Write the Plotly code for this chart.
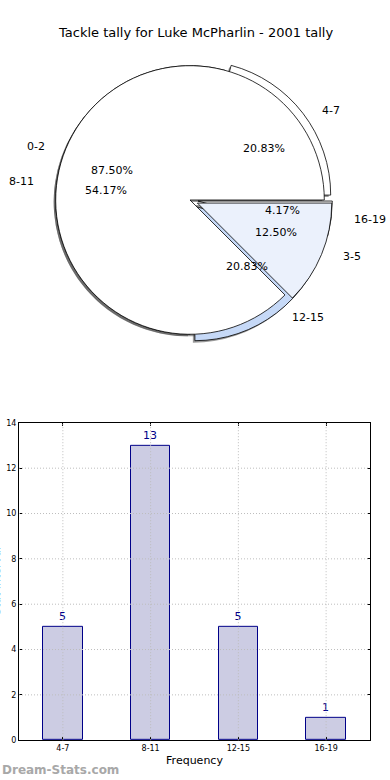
import math
import plotly.graph_objects as go

W, H = 390, 780          # reference geometry (all positions below are given in this frame)
H_LAYOUT = 785           # layout height (compensates the slight vertical squeeze of the capture)

title_text = "Tackle tally for Luke McPharlin - 2001 tally"

# Pie A (drawn on top)
pieA_labels = ["0-2", "3-5"]
pieA_values = [21, 3]
pieA_colors = ["#ffffff", "#ebf1fc"]
pieA_pull = [0.0, 0.06]

# Pie B (drawn underneath)
pieB_labels = ["4-7", "8-11", "12-15", "16-19"]
pieB_values = [5, 13, 5, 1]
pieB_colors = ["#ffffff", "#ffffff", "#c6d9f7", "#ffffff"]
pieB_pull = [0.06, 0.0, 0.06, 0.06]

# Bar chart
bar_categories = ["4-7", "8-11", "12-15", "16-19"]
bar_values = [5, 13, 5, 1]
y_ticks = [0, 2, 4, 6, 8, 10, 12, 14]

FONT = "DejaVu Sans"

# pie geometry (pixels)
cx, cy, R = 190.0, 197.0, 135.0
RX, RY = 141.0, 128.0     # text placement radii (reference pie is slightly elliptical)
maxpull = 0.06
half = R * (1 + maxpull)


def dom(dx=0.0, dy=0.0):
    x0 = (cx + dx - half) / W
    x1 = (cx + dx + half) / W
    y0 = 1 - (cy + dy + half) / H
    y1 = 1 - (cy + dy - half) / H
    return dict(x=[x0, x1], y=[y0, y1])


fig = go.Figure()


def pie(labels, values, colors, pull, domain, shadow=False):
    # first slice starts at 3 o'clock and runs counterclockwise
    first_deg = 360.0 * values[0] / float(sum(values))
    return go.Pie(
        labels=labels, values=values, sort=False, direction="counterclockwise",
        rotation=90 - first_deg, pull=pull, domain=domain, textinfo="none",
        hoverinfo="label+percent", showlegend=False,
        marker=dict(colors=(["rgba(70,70,70,0.55)"] * len(values)) if shadow else colors,
                    line=dict(color="rgba(0,0,0,0)" if shadow else "#000000",
                              width=0 if shadow else 0.8)),
    )


# shadows
fig.add_trace(pie(pieB_labels, pieB_values, pieB_colors, pieB_pull, dom(-2, 2), shadow=True))
fig.add_trace(pie(pieA_labels, pieA_values, pieA_colors, pieA_pull, dom(-2, 2), shadow=True))
# wedges
fig.add_trace(pie(pieB_labels, pieB_values, pieB_colors, pieB_pull, dom()))
fig.add_trace(pie(pieA_labels, pieA_values, pieA_colors, pieA_pull, dom()))

annotations = []


def pie_annotations(labels, values, pull):
    total = float(sum(values))
    start = 0.0
    for lab, v, p in zip(labels, values, pull):
        frac = v / total
        mid = math.radians((start + frac / 2) * 360.0)
        start += frac
        ca, sa = math.cos(mid), math.sin(mid)
        lx = cx + (1.1 + p) * RX * ca
        ly = cy - (1.1 + p) * RY * sa
        annotations.append(dict(
            x=lx / W, y=1 - ly / H, xref="paper", yref="paper", text=lab,
            showarrow=False, xanchor="left" if ca > 0 else "right", yanchor="middle",
            font=dict(family=FONT, size=11, color="#000000")))
        px = cx + (0.6 + p) * RX * ca
        py = cy - (0.6 + p) * RY * sa
        annotations.append(dict(
            x=px / W, y=1 - py / H, xref="paper", yref="paper",
            text="%.2f%%" % (frac * 100), showarrow=False,
            xanchor="center", yanchor="middle",
            font=dict(family=FONT, size=11, color="#000000")))


pie_annotations(pieB_labels, pieB_values, pieB_pull)
pie_annotations(pieA_labels, pieA_values, pieA_pull)

# title
annotations.append(dict(x=195 / W, y=1 - 29 / H, xref="paper", yref="paper",
                        text=title_text, showarrow=False, xanchor="center",
                        yanchor="middle", font=dict(family=FONT, size=13, color="#000000")))
# y axis title (clipped at left edge, as in the reference)
annotations.append(dict(x=-4 / W, y=1 - 580 / H, xref="paper", yref="paper",
                        text="Stat Interval", showarrow=False, textangle=-90,
                        xanchor="center", yanchor="middle",
                        font=dict(family=FONT, size=11, color="#000000")))
# watermark
annotations.append(dict(x=0 / W, y=1 - 770 / H, xref="paper", yref="paper",
                        text="<b>Dream-Stats.com</b>", showarrow=False,
                        xanchor="left", yanchor="middle",
                        font=dict(family=FONT, size=12, color="#a8a8a8")))

fig.add_trace(go.Bar(
    x=bar_categories, y=bar_values, width=0.45,
    marker=dict(color="#ccccE3", line=dict(color="#000088", width=1)),
    text=[str(v) for v in bar_values], textposition="outside",
    textfont=dict(family=FONT, size=11, color="#000088"),
    cliponaxis=False, showlegend=False, xaxis="x", yaxis="y",
))

# dotted grid drawn above the bars (as in the reference)
GRID = dict(color="#bdbdbd", width=1, dash="1px,2px")
shapes = []
for t in y_ticks[1:-1]:
    shapes.append(dict(type="line", xref="x domain", yref="y", x0=0, x1=1, y0=t, y1=t,
                       line=GRID, layer="above"))
for c in bar_categories:
    shapes.append(dict(type="line", xref="x", yref="y domain", x0=c, x1=c, y0=0, y1=1,
                       line=GRID, layer="above"))

fig.update_layout(
    width=W, height=H_LAYOUT, margin=dict(l=0, r=0, t=0, b=0),
    paper_bgcolor="#ffffff", plot_bgcolor="#ffffff",
    annotations=annotations, shapes=shapes,
    xaxis=dict(domain=[19 / W, 370 / W], anchor="y", range=[-0.5, 3.5],
               showline=True, linecolor="#000000", linewidth=1, mirror="ticks",
               showgrid=False, ticks="inside", ticklen=3, tickcolor="#000000",
               tickfont=dict(family=FONT, size=8, color="#000000"),
               title=dict(text="Frequency", font=dict(family=FONT, size=11, color="#000000"),
                          standoff=4),
               layer="above traces", fixedrange=True),
    yaxis=dict(domain=[1 - 740 / H, 1 - 421 / H], anchor="x", range=[0, 14],
               tickvals=y_ticks,
               showline=True, linecolor="#000000", linewidth=1, mirror="ticks",
               showgrid=False, ticks="inside", ticklen=3, tickcolor="#000000",
               tickfont=dict(family=FONT, size=8, color="#000000"),
               zeroline=False, layer="above traces", fixedrange=True),
    bargap=0,
)

POST = (
    "document.body.style.margin='0px';"
    "document.documentElement.style.overflow='hidden';"
    "document.body.style.overflow='hidden';"
    "var c=document.querySelectorAll('.svg-container');"
    "for(var i=0;i<c.length;i++){c[i].style.overflow='hidden';}"
    "var s=document.querySelectorAll('.main-svg');"
    "for(var j=0;j<s.length;j++){s[j].style.display='block';}"
)

fig.write_html("out.html", config={"displayModeBar": False}, post_script=POST)
